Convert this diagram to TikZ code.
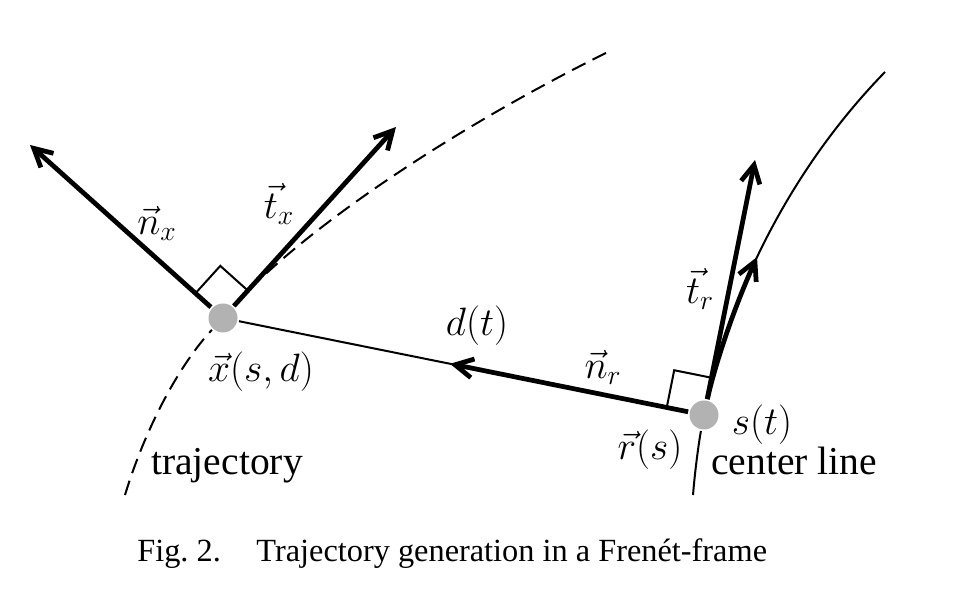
\RequirePackage{fix-cm}
\documentclass[tikz,border=0pt]{standalone}
\usepackage[no-math]{fontspec}
\setmainfont{Liberation Serif}
\usetikzlibrary{
  arrows.meta,
  calc,
}
\tikzset{
  >={Straight Barb[length=3.6mm,width=3.8mm]},
}

\begin{document}
\begin{tikzpicture}[x=0.2mm, y=0.2mm,
    every node/.style={font=\fontsize{22.5}{26}\selectfont},
    dot/.style={circle, fill=black!30, minimum size=5.8mm, inner sep=0pt, outer sep=1pt},
    vect/.style={line width=0.95mm, ->},
    thinline/.style={line width=0.4mm},
    traj/.style={thinline, dash pattern=on 3mm off 1.6mm},
  ]
  \useasboundingbox (0,0) rectangle (953,609);

  % frame origins
  \node[dot] (X) at (223,291) {};
  \node[dot] (R) at (704,194) {};

  % arrow tips
  \coordinate (nx) at (30,464);
  \coordinate (tx) at (396,482);
  \coordinate (tr) at (755,449);
  \coordinate (nr) at ($(R)!0.528!(X)$);

  % trajectory and center line
  \draw[traj] (125,114) .. controls (145,180) and (179,244) .. (X)
    .. controls (300,377) and (450,479) .. (608,557);
  \draw[thinline] (693,114) .. controls (695,139) and (699,168) .. (R)
    .. controls (722,279) and (770,419) .. (885,537);
  \draw[vect] (R) .. controls (713,236) and (730,292) .. (757,352);

  % distance
  \draw[thinline] (X) -- (R);

  % frame vectors
  \draw[vect] (X) -- (nx);
  \draw[vect] (X) -- (tx);
  \draw[vect] (R) -- (tr);
  \draw[vect] (R) -- (nr);

  % right angles
  \coordinate (xa) at ($(X)!7.4mm!(nx)$);
  \coordinate (xb) at ($(X)!7.4mm!(tx)$);
  \draw[thinline] (xa) -- ($(xa)+(xb)-(X)$) -- (xb);
  \coordinate (ra) at ($(R)!7.6mm!(X)$);
  \coordinate (rb) at ($(R)!7.6mm!(tr)$);
  \draw[thinline] (ra) -- ($(ra)+(rb)-(R)$) -- (rb);

  % labels
  \node (nxlabel) at (157,386) {$\vec n_x$};
  \node (txlabel) at (279,405) {$\vec t_x$};
  \node (xlabel) at (261,237) {$\vec x(s,d)$};
  \node[anchor=base] (trajlabel) at (227,134) {trajectory};
  \node[anchor=base] (centerlabel) at (794,134) {center line};
  \node (dlabel) at (477,283) {$d(t)$};
  \node (nrlabel) at (603,242) {$\vec n_r$};
  \node (trlabel) at (700,320) {$\vec t_r$};
  \node (rlabel) at (650,159) {$\vec r(s)$};
  \node (slabel) at (762,184) {$s(t)$};

  % caption
  \node[anchor=base west, inner sep=0pt, font=\fontsize{18.4}{22}\selectfont] (caption) at (137,47)
    {Fig.~2.\hspace{1.1em}Trajectory generation in a Frenét-frame};
\end{tikzpicture}
\end{document}
